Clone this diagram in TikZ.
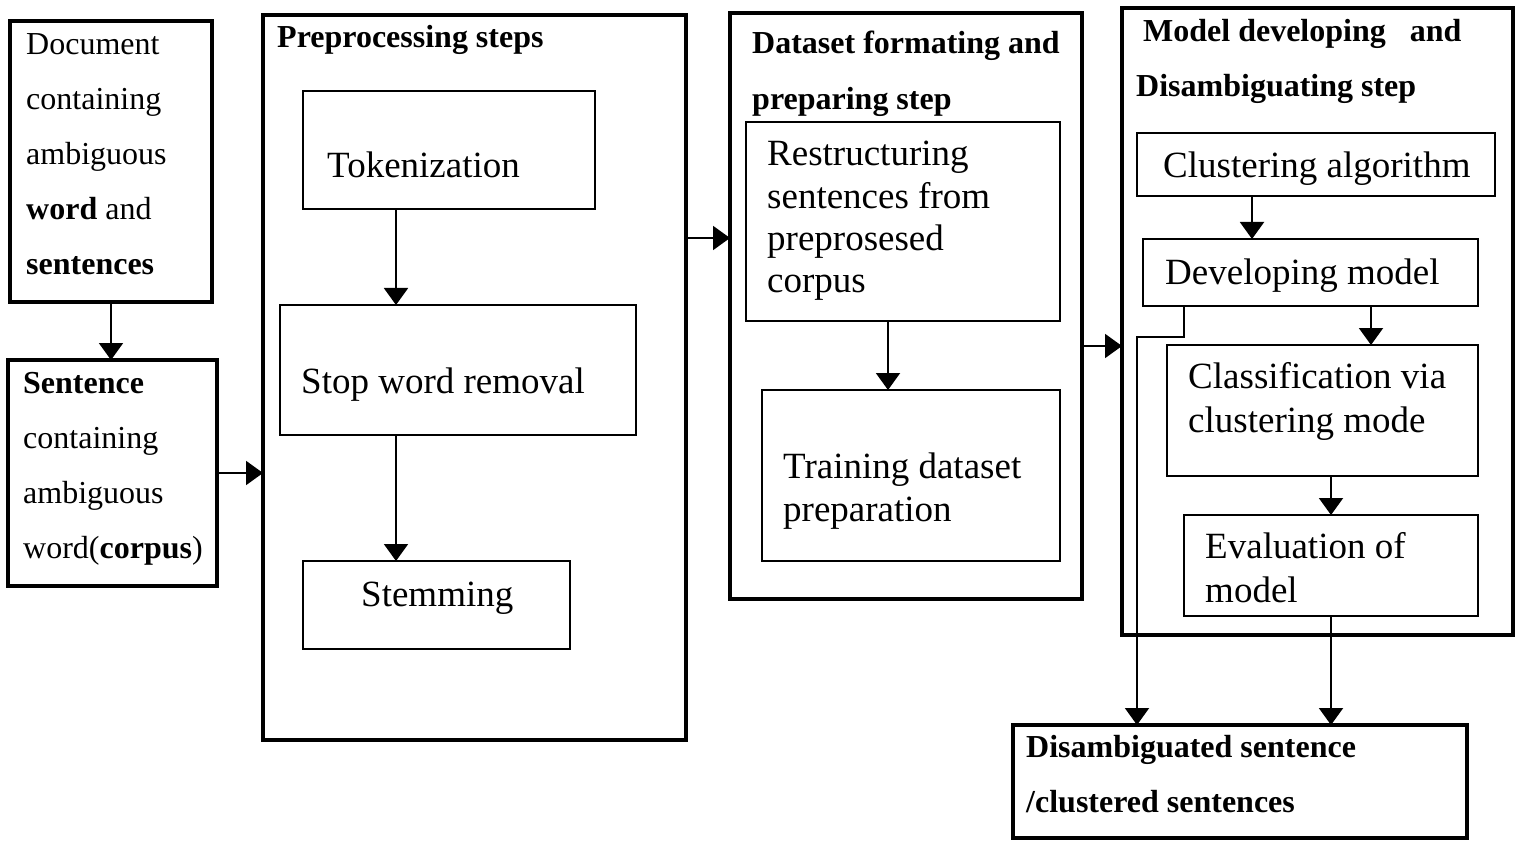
\documentclass[tikz,border=0pt]{standalone}
\usepackage{fontspec}
\setmainfont{Liberation Serif}
\usetikzlibrary{arrows.meta}

\tikzset{
  frame/.style={draw, line width=4.5pt, inner sep=0pt, outer sep=0pt, anchor=north west},
  stepbox/.style={draw, line width=1.6pt, inner sep=0pt, outer sep=0pt, anchor=north west},
  smalltext/.style={font=\fontsize{32}{55}\selectfont, align=left, anchor=base west, inner sep=0pt},
  bigtext/.style={font=\fontsize{37}{43}\selectfont, align=left, anchor=base west, inner sep=0pt},
  arr/.style={line width=2pt, -{Triangle[length=17pt,width=24pt]}}
}

\begin{document}
\begin{tikzpicture}[x=1pt,y=-1pt]
  \useasboundingbox (0,0) rectangle (1520,842);
  % input boxes (texts placed at the baseline of their last line)
  \node[frame, minimum width=202pt, minimum height=281pt] (doc) at (10,21) {};
  \node[frame, minimum width=209pt, minimum height=226pt] (sent) at (8,360) {};
  \node[smalltext] (doctxt) at (26,275) {Document\\containing\\ambiguous\\\textbf{word} and\\\textbf{sentences}};
  \node[smalltext] (senttxt) at (23,558) {\textbf{Sentence}\\containing\\ambiguous\\word(\textbf{corpus})};
  % preprocessing
  \node[frame, minimum width=423pt, minimum height=725pt] (prep) at (263,15) {};
  \node[smalltext, font=\fontsize{32}{55}\selectfont\bfseries] (preptxt) at (277,48) {Preprocessing steps};
  \node[stepbox, minimum width=292pt, minimum height=118pt] (tok) at (303,91) {};
  \node[stepbox, minimum width=356pt, minimum height=130pt] (stop) at (280,305) {};
  \node[stepbox, minimum width=267pt, minimum height=88pt] (stem) at (303,561) {};
  \node[bigtext] (toktxt) at (327,178) {Tokenization};
  \node[bigtext] (stoptxt) at (301,393) {Stop word removal};
  \node[bigtext] (stemtxt) at (361,606) {Stemming};
  % dataset
  \node[frame, minimum width=352pt, minimum height=586pt] (dset) at (730,13) {};
  \node[smalltext, font=\fontsize{32}{56}\selectfont\bfseries] (dsettxt) at (752,110) {Dataset formating and\\preparing step};
  \node[stepbox, minimum width=314pt, minimum height=199pt] (rest) at (746,122) {};
  \node[stepbox, minimum width=298pt, minimum height=171pt] (train) at (762,390) {};
  \node[bigtext, font=\fontsize{37}{42.5}\selectfont] (resttxt) at (767,293) {Restructuring\\sentences from\\preprosesed\\corpus};
  \node[bigtext] (traintxt) at (783,521) {Training dataset\\preparation};
  % model
  \node[frame, minimum width=391pt, minimum height=627pt] (model) at (1122,8) {};
  \node[smalltext, font=\fontsize{32}{55}\selectfont\bfseries] (modeltxt) at (1136,97) {\hspace*{7pt}Model developing\hspace{24pt}and\\Disambiguating step};
  \node[stepbox, minimum width=358pt, minimum height=63pt] (clust) at (1137,133) {};
  \node[stepbox, minimum width=335pt, minimum height=67pt] (dev) at (1143,239) {};
  \node[stepbox, minimum width=311pt, minimum height=131pt] (class) at (1167,345) {};
  \node[stepbox, minimum width=294pt, minimum height=101pt] (eval) at (1184,515) {};
  \node[bigtext] (clusttxt) at (1163,178) {Clustering algorithm};
  \node[bigtext] (devtxt) at (1165,284) {Developing model};
  \node[bigtext, font=\fontsize{37}{44}\selectfont] (classtxt) at (1188,432) {Classification via\\clustering mode};
  \node[bigtext, font=\fontsize{37}{44}\selectfont] (evaltxt) at (1205,602) {Evaluation of\\model};
  % output
  \node[frame, line width=4pt, minimum width=454pt, minimum height=113pt] (fin) at (1013,725) {};
  \node[smalltext, font=\fontsize{32}{55}\selectfont\bfseries] (fintxt) at (1026,812) {Disambiguated sentence\\/clustered sentences};

  % connectors
  \draw[arr] (doc.south) -- (doc.south |- sent.north);
  \draw[arr] (sent.east) -- (sent.east -| prep.west);
  \path (tok.south west) ++(93,0) coordinate (t2s);
  \draw[arr] (t2s) -- (t2s |- stop.north);
  \path (stop.south west) ++(116,0) coordinate (s2s);
  \draw[arr] (s2s) -- (s2s |- stem.north);
  \path (prep.north east) ++(0,223) coordinate (p2d);
  \draw[arr] (p2d) -- (p2d -| dset.west);
  \path (rest.south west) ++(142,0) coordinate (r2t);
  \draw[arr] (r2t) -- (r2t |- train.north);
  \path (dset.north east) ++(0,333) coordinate (d2m);
  \draw[arr] (d2m) -- (d2m -| model.west);
  \path (clust.south west) ++(115,0) coordinate (c2d);
  \draw[arr] (c2d) -- (c2d |- dev.north);
  \path (dev.south west) ++(228,0) coordinate (d2c);
  \draw[arr] (d2c) -- (d2c |- class.north);
  \draw[arr] (eval.north |- class.south) -- (eval.north);
  \draw[arr] (eval.south) -- (eval.south |- fin.north);
  \path (dev.south west) ++(41,0) coordinate (d2f);
  \path (fin.north west) ++(124,0) coordinate (f2d);
  \draw[arr] (d2f) -- ++(0,31) -| (f2d);
\end{tikzpicture}
\end{document}
